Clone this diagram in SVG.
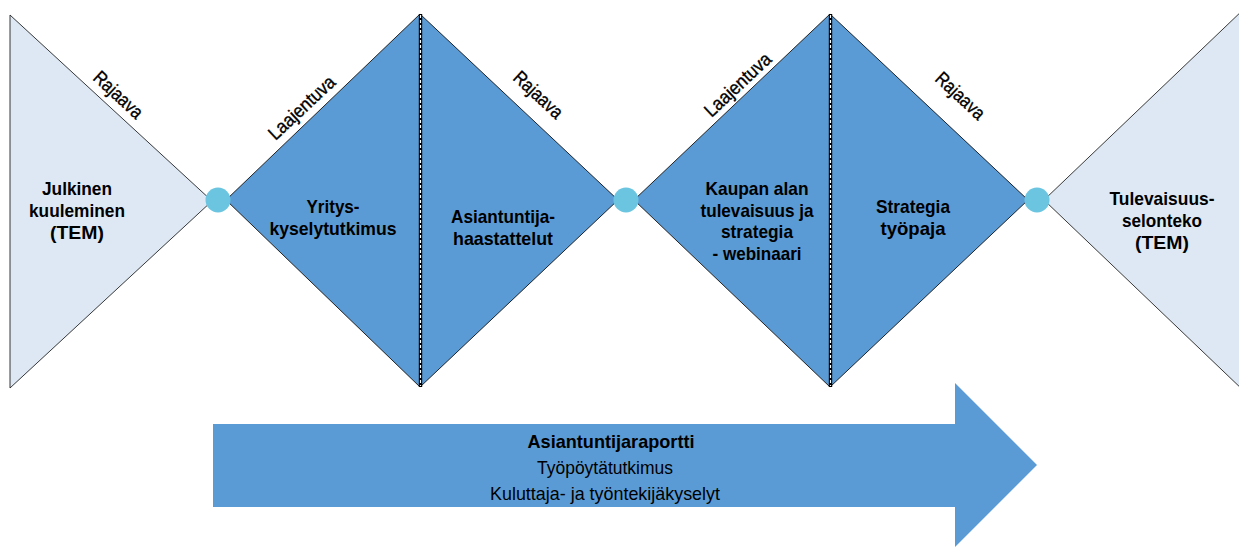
<svg xmlns="http://www.w3.org/2000/svg" width="1239" height="547" viewBox="0 0 1239 547">
<style>
.light{fill:#DEE8F4;stroke:#222;stroke-width:0.9}
.dark{fill:#5B9BD5;stroke:#111;stroke-width:0.9}
.dot{fill:#6CC5E0}
.lbl{font-family:"Liberation Sans",Arial,sans-serif;font-weight:bold;font-size:18.5px;fill:#000;text-anchor:middle}
.edge{font-family:"Liberation Sans",Arial,sans-serif;font-size:19px;fill:#000;stroke:#000;stroke-width:0.35;text-anchor:middle}
.arr{font-family:"Liberation Sans",Arial,sans-serif;font-size:19px;fill:#000;text-anchor:middle}
.divB{stroke:#000;stroke-width:3.4}
.divW{stroke:#fff;stroke-width:1.2;stroke-dasharray:3 2}
</style>
<rect width="1239" height="547" fill="#fff"/>
<g id="node-julkinen">
<polygon class="light" points="10,15 10,388 212,201"/>
<text class="lbl" x="77" y="195" textLength="70" lengthAdjust="spacingAndGlyphs">Julkinen</text>
<text class="lbl" x="77" y="217" textLength="96" lengthAdjust="spacingAndGlyphs">kuuleminen</text>
<text class="lbl" x="77" y="239" textLength="54" lengthAdjust="spacingAndGlyphs">(TEM)</text>
</g>
<g id="node-yrityskysely">
<polygon class="dark" points="226,200 420,14 420,387"/>
<text class="lbl" x="333" y="213" textLength="53" lengthAdjust="spacingAndGlyphs">Yritys-</text>
<text class="lbl" x="333" y="235" textLength="127" lengthAdjust="spacingAndGlyphs">kyselytutkimus</text>
</g>
<g id="node-asiantuntija">
<polygon class="dark" points="420,14 618,200 420,387"/>
<text class="lbl" x="503" y="223" textLength="104" lengthAdjust="spacingAndGlyphs">Asiantuntija-</text>
<text class="lbl" x="503" y="245" textLength="100" lengthAdjust="spacingAndGlyphs">haastattelut</text>
</g>
<g id="node-webinaari">
<polygon class="dark" points="634,200 830,14 830,387"/>
<text class="lbl" x="757" y="195" textLength="103" lengthAdjust="spacingAndGlyphs">Kaupan alan</text>
<text class="lbl" x="757" y="217" textLength="113" lengthAdjust="spacingAndGlyphs">tulevaisuus ja</text>
<text class="lbl" x="757" y="238" textLength="72" lengthAdjust="spacingAndGlyphs">strategia</text>
<text class="lbl" x="757" y="260" textLength="89" lengthAdjust="spacingAndGlyphs">- webinaari</text>
</g>
<g id="node-tyopaja">
<polygon class="dark" points="830,14 1028,200 830,387"/>
<text class="lbl" x="913" y="213" textLength="74" lengthAdjust="spacingAndGlyphs">Strategia</text>
<text class="lbl" x="913" y="235" textLength="65" lengthAdjust="spacingAndGlyphs">työpaja</text>
</g>
<g id="node-selonteko">
<polygon class="light" points="1044,200 1245,8 1245,392"/>
<text class="lbl" x="1162" y="205" textLength="105" lengthAdjust="spacingAndGlyphs">Tulevaisuus-</text>
<text class="lbl" x="1162" y="227" textLength="80" lengthAdjust="spacingAndGlyphs">selonteko</text>
<text class="lbl" x="1162" y="249" textLength="54" lengthAdjust="spacingAndGlyphs">(TEM)</text>
</g>
<g id="dividers">
<line class="divB" x1="420.5" y1="14" x2="420.5" y2="387"/>
<line class="divW" x1="420.5" y1="15" x2="420.5" y2="386"/>
<line class="divB" x1="830.5" y1="14" x2="830.5" y2="387"/>
<line class="divW" x1="830.5" y1="15" x2="830.5" y2="386"/>
</g>
<g id="connectors">
<circle class="dot" cx="218" cy="200" r="12.5"/>
<circle class="dot" cx="626" cy="200" r="12.5"/>
<circle class="dot" cx="1037" cy="200" r="12.5"/>
</g>
<g id="edge-labels">
<text class="edge" transform="translate(118,95) rotate(43)" y="6" textLength="60" lengthAdjust="spacingAndGlyphs">Rajaava</text>
<text class="edge" transform="translate(302,108) rotate(-43)" y="6" textLength="84" lengthAdjust="spacingAndGlyphs">Laajentuva</text>
<text class="edge" transform="translate(538,95) rotate(43)" y="6" textLength="60" lengthAdjust="spacingAndGlyphs">Rajaava</text>
<text class="edge" transform="translate(738,85) rotate(-43)" y="6" textLength="84" lengthAdjust="spacingAndGlyphs">Laajentuva</text>
<text class="edge" transform="translate(960,96) rotate(43)" y="6" textLength="60" lengthAdjust="spacingAndGlyphs">Rajaava</text>
</g>
<g id="node-raportti">
<polygon fill="#5B9BD5" points="213,424 955,424 955,383 1037,465 955,547 955,507 213,507"/>
<text class="arr" x="611" y="448" font-weight="bold" textLength="167" lengthAdjust="spacingAndGlyphs">Asiantuntijaraportti</text>
<text class="arr" x="605" y="474" textLength="136" lengthAdjust="spacingAndGlyphs">Työpöytätutkimus</text>
<text class="arr" x="605" y="500" textLength="230" lengthAdjust="spacingAndGlyphs">Kuluttaja- ja työntekijäkyselyt</text>
</g>
</svg>
